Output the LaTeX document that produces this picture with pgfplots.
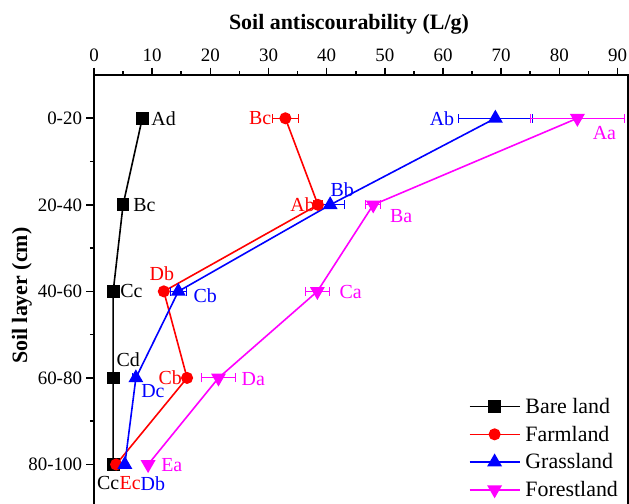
\documentclass[border=0pt]{standalone}
\usepackage{fontspec}
\setmainfont{Liberation Serif}
\usepackage{pgfplots}
\pgfplotsset{compat=1.18}
\definecolor{cred}{RGB}{255,0,0}
\definecolor{cblue}{RGB}{0,0,255}
\definecolor{cmag}{RGB}{255,0,255}
\newcommand{\myticksize}{\fontsize{19}{23}\selectfont}
\newcommand{\mylabsize}{\fontsize{20}{24}\selectfont}
\newcommand{\lab}[6]{\node[text=#1, font=\mylabsize, anchor=#2, xshift=#3bp, yshift=#4bp, inner sep=0pt] at (axis cs:#5) {#6};}
\begin{document}
\begin{tikzpicture}
\begin{axis}[
  scale only axis,
  width=534bp, height=441.4bp,
  xmin=0, xmax=91.8,
  ymin=-0.5, ymax=4.6,
  y dir=reverse,
  clip=false,
  axis line style={line width=1.6bp},
  tick style={line width=1.6bp, black},
  tick align=outside,
  major tick length=7.5bp,
  minor tick length=4bp,
  xtick pos=upper, xticklabel pos=upper,
  ytick pos=left,
  xtick={0,10,...,90},
  minor x tick num=1,
  ytick={0,1,2,3,4},
  yticklabels={0-20,20-40,40-60,60-80,80-100},
  minor ytick={0.5,1.5,2.5,3.5},
  /pgf/number format/assume math mode=true,
  xticklabel style={font=\myticksize, yshift=2bp},
  yticklabel style={font=\myticksize, xshift=-1bp},
  legend style={draw=none, fill=none, font=\fontsize{22}{26}\selectfont,
    at={(axis cs:64.4,3.21)}, anchor=north west, inner sep=0pt,
    row sep=7bp, nodes={inner xsep=5bp}},
  legend cell align=left,
  legend image code/.code={\draw[#1, line width=1.6bp, mark repeat=2, mark phase=2] plot coordinates {(0bp,0bp) (25bp,0bp) (50bp,0bp)};},
  every axis plot/.append style={line width=1.6bp},
  error bars/error mark options={rotate=90, mark size=4.5bp, line width=1bp},
]
\addplot[black, mark=square*, mark size=5.6bp, mark options={solid},
  error bars/.cd, x dir=both, x explicit, error bar style={black, line width=1bp}]
  table[x=x, y=y, x error=e] {
x y e
8.3 0 0.3
5.0 1 0.2
3.3 2 0.2
3.3 3 0.2
3.3 4 0.4
};
\addlegendentry{Bare land}
\addplot[cred, mark=*, mark size=5.2bp, mark options={solid},
  error bars/.cd, x dir=both, x explicit, error bar style={cred, line width=1bp}]
  table[x=x, y=y, x error=e] {
x y e
32.9 0 2.3
38.5 1 0.8
12.0 2 0.5
16.0 3 0.5
3.8 4 0.5
};
\addlegendentry{Farmland}
\addplot[cblue, mark=triangle*, mark size=7bp, mark options={solid},
  error bars/.cd, x dir=both, x explicit, error bar style={cblue, line width=1bp}]
  table[x=x, y=y, x error=e] {
x y e
69.0 0 6.3
40.6 1 2.4
14.5 2 1.4
7.2 3 0.5
5.3 4 0.3
};
\addlegendentry{Grassland}
\addplot[cmag, mark=triangle*, mark size=7bp, mark options={solid, rotate=180},
  error bars/.cd, x dir=both, x explicit, error bar style={cmag, line width=1bp}]
  table[x=x, y=y, x error=e] {
x y e
83.1 0 8.1
48.0 1 1.3
38.4 2 2.1
21.4 3 2.9
9.3 4 0.3
};
\addlegendentry{Forestland}
% point labels
\lab{black}{west}{9}{0}{8.3,0}{Ad}
\lab{black}{west}{10}{0}{5.0,1}{Bc}
\lab{black}{west}{7}{0}{3.3,2}{Cc}
\lab{black}{center}{15}{18}{3.3,3}{Cd}
\lab{black}{center}{-5}{-19}{3.3,4}{Cc}
\lab{cred}{east}{-14}{0}{32.9,0}{Bc}
\lab{cred}{east}{-3}{0}{38.5,1}{Ab}
\lab{cred}{center}{-2}{18}{12.0,2}{Db}
\lab{cred}{east}{-5}{0}{16.0,3}{Cb}
\lab{cred}{center}{14}{-19}{3.8,4}{Ec}
\lab{cblue}{east}{-41}{0}{69.0,0}{Ab}
\lab{cblue}{center}{12}{15}{40.6,1}{Bb}
\lab{cblue}{west}{15}{-4}{14.5,2}{Cb}
\lab{cblue}{center}{17}{-13}{7.2,3}{Dc}
\lab{cblue}{center}{28}{-19}{5.3,4}{Db}
\lab{cmag}{center}{27}{-15}{83.1,0}{Aa}
\lab{cmag}{center}{28}{-11}{48.0,1}{Ba}
\lab{cmag}{west}{22}{-1}{38.4,2}{Ca}
\lab{cmag}{west}{23}{-1}{21.4,3}{Da}
\lab{cmag}{west}{13}{-1}{9.3,4}{Ea}
% axis titles
\node[font=\bfseries\fontsize{22}{26}\selectfont] at ([yshift=51bp]axis description cs:0.4775,1) {Soil antiscourability (L/g)};
\node[font=\bfseries\fontsize{22}{26}\selectfont, rotate=90] at ([xshift=-72bp]axis description cs:0,0.5) {Soil layer (cm)};
\coordinate (bl) at (axis cs:0,4.446);
\coordinate (tr) at (axis cs:91.8,-0.5);
\end{axis}
\pgfresetboundingbox
\path[use as bounding box] ([xshift=-94bp]bl) rectangle ([xshift=1bp,yshift=75bp]tr);
\end{tikzpicture}
\end{document}
